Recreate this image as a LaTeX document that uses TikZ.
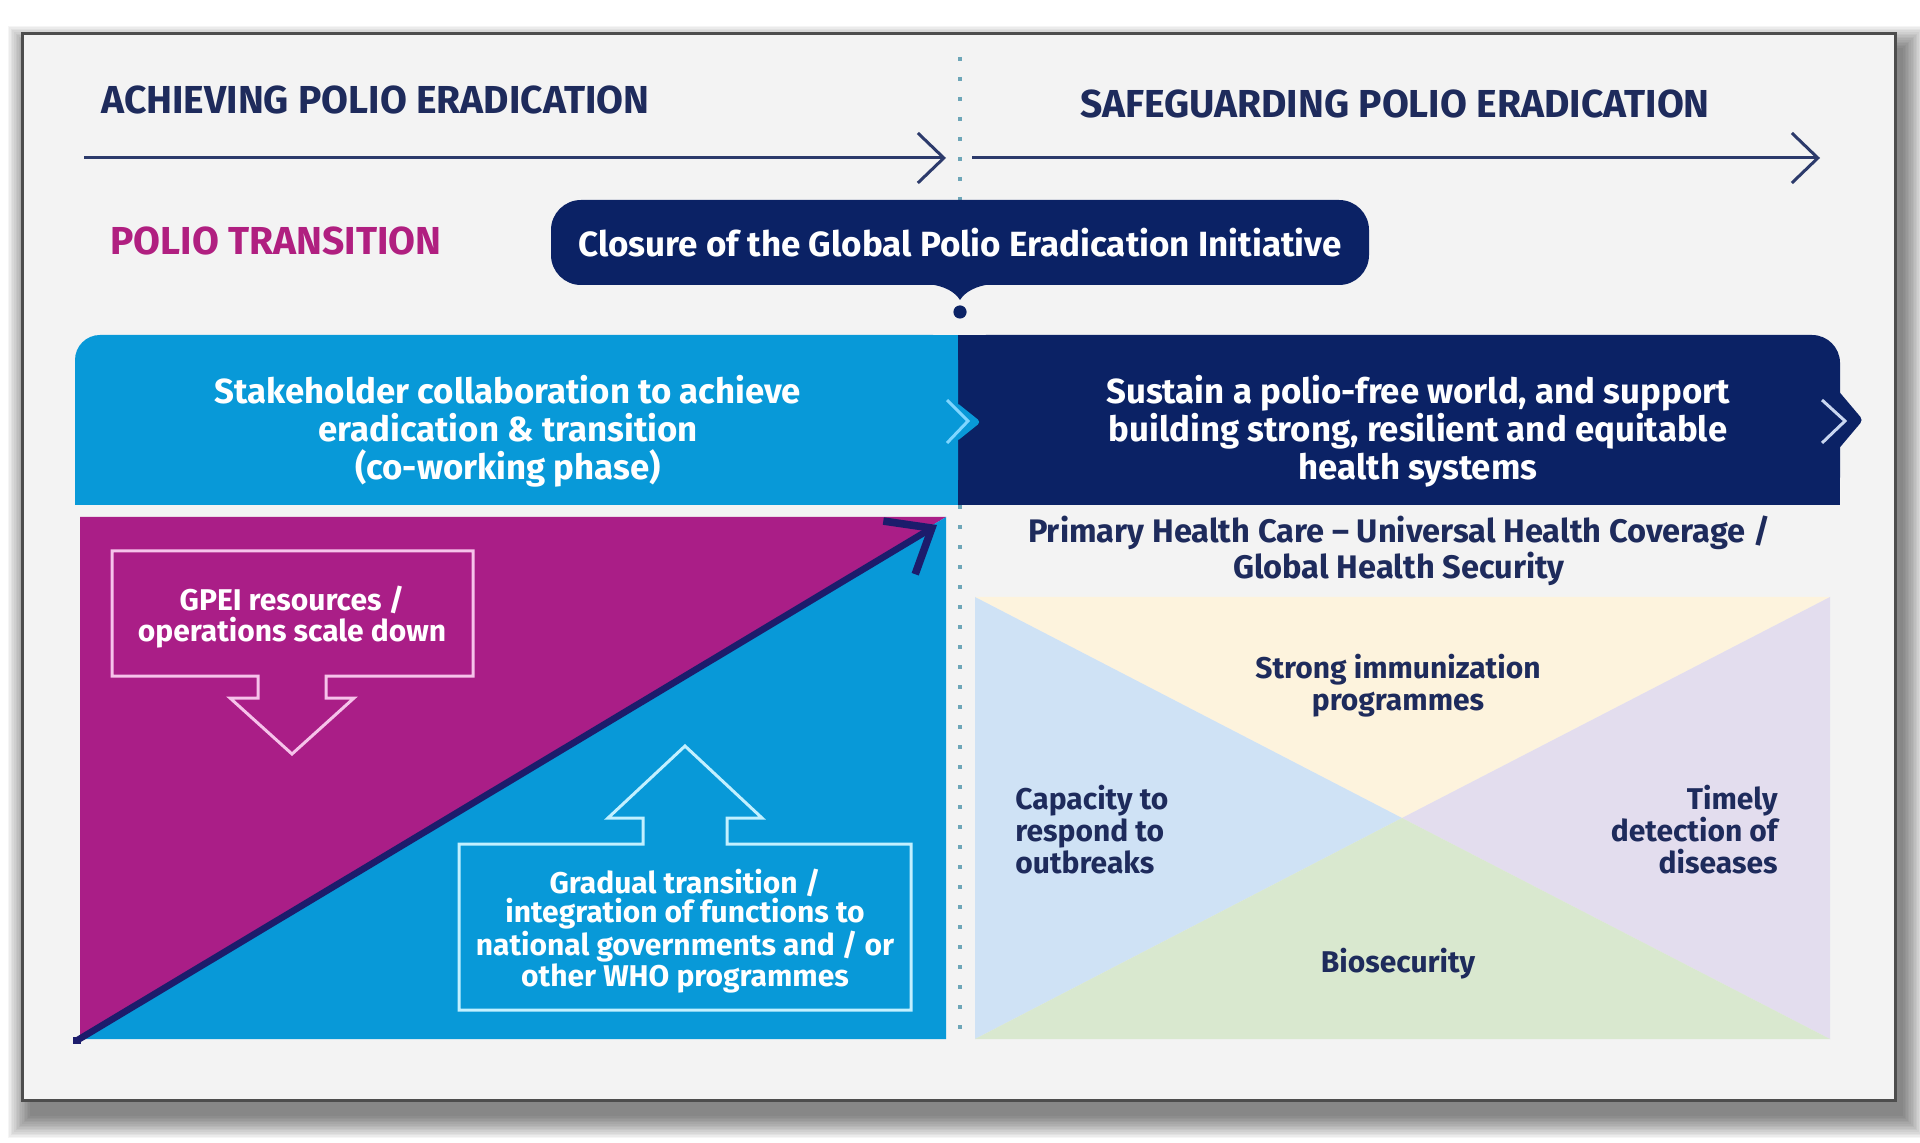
\documentclass[tikz,border=0pt]{standalone}
\usepackage{fontspec}
\setmainfont{Fira Sans}
\usetikzlibrary{arrows.meta}
\definecolor{framebg}{HTML}{F3F3F3}
\definecolor{framebd}{HTML}{4D4D4D}
\definecolor{navytxt}{HTML}{1E2B5C}
\definecolor{tlline}{HTML}{2C3A6B}
\definecolor{navybox}{HTML}{0B2265}
\definecolor{lblue}{HTML}{0899D8}
\definecolor{magtxt}{HTML}{B01F80}
\definecolor{purp}{HTML}{AA1E87}
\definecolor{diagc}{HTML}{1C1C6C}
\definecolor{pinkline}{HTML}{F6C3EA}
\definecolor{cyanline}{HTML}{C2F0FF}
\definecolor{dotc}{HTML}{6EA6B8}
\definecolor{triY}{HTML}{FDF3DD}
\definecolor{triB}{HTML}{CFE2F5}
\definecolor{triL}{HTML}{E3DDEE}
\definecolor{triG}{HTML}{D9E8CF}
\definecolor{chevL}{HTML}{7FD6FF}
\definecolor{chevR}{HTML}{C9D6F0}
\tikzset{
  titletxt/.style={font=\fontsize{19.5}{22}\selectfont\bfseries, text=navytxt, inner sep=0pt},
  bandtxt/.style={font=\fontsize{17.4}{19}\selectfont\bfseries, text=white, align=center, inner sep=0pt},
  bodytxt/.style={font=\fontsize{15}{16}\selectfont\bfseries, inner sep=0pt},
  dotline/.style={dotc, line width=2pt, dash pattern=on 2pt off 8pt},
  timeline/.style={tlline, line width=1.5pt, -{Straight Barb[length=13pt,width=25pt,line width=1.5pt]}},
  chevron/.style={line width=1.5pt, miter limit=10},
  closurebox/.style={fill=navybox, rounded corners=15pt, text=white, font=\fontsize{17.5}{20}\selectfont\bfseries, minimum width=409pt, minimum height=42.5pt, inner sep=0pt},
  diagarrow/.style={diagc, line width=3.3pt, -{Straight Barb[length=19pt,width=31pt,line width=3.8pt]}},
  outlinepink/.style={pinkline, line width=1.5pt, line join=miter},
  outlinecyan/.style={cyanline, line width=1.5pt, line join=miter}
}
\begin{document}
\begin{tikzpicture}[x=0.5pt,y=-0.5pt]
\useasboundingbox (0,0) rectangle (1920,1143);
\fill[white] (0,0) rectangle (1920,1143);
% shadow
\foreach \i in {0,...,14}{
  \fill[black,opacity=0.04] ({30-\i*1.6},{48-\i*1.6}) rectangle ({1903+\i*1.6},{1116+\i*1.6});
}
% frame
\draw[framebd, line width=1.5pt, fill=framebg] (22,34) rectangle (1895,1100);

% dotted divider
\coordinate (dtA) at (960,57);
\coordinate (dtB) at (960,200);
\coordinate (dtC) at (960,505);
\coordinate (dtD) at (960,1039);
\draw[dotline] (dtA) -- (dtB);
\draw[dotline] (dtC) -- (dtD);

% titles and timelines
\node[titletxt, anchor=west] (achieve) at (101,100) {ACHIEVING POLIO ERADICATION};
\node[titletxt] (safe) at (1395,104) {SAFEGUARDING POLIO ERADICATION};
\coordinate (tlAs) at (84,158);
\coordinate (tlAe) at (946,158);
\coordinate (tlBs) at (972,158);
\coordinate (tlBe) at (1820,158);
\draw[timeline] (tlAs) -- (tlAe);
\draw[timeline] (tlBs) -- (tlBe);

\node[titletxt, text=magtxt, anchor=west] (ptrans) at (110,241) {POLIO TRANSITION};

% closure box with pointer
\fill[navybox] (928,284) .. controls (945,286) and (955,292) .. (960,300) .. controls (965,292) and (975,286) .. (992,284) -- cycle;
\fill[navybox] (960,312) circle[radius=3.3pt];
\node[closurebox] (closure) at (960,242.5) {Closure of the Global Polio Eradication Initiative};

% band: dark right part
\fill[navybox, rounded corners=14pt] (958,335) rectangle (1840,505);
\fill[navybox] (958,335) rectangle (1500,505);
\fill[navybox] (958,420) rectangle (1840,505);
\fill[navybox, rounded corners=2pt] (1836,388) -- (1863,420) -- (1836,452) -- cycle;
\draw[chevron, chevR] (1822,400) -- (1845,421) -- (1822,443);
% band: light left part
\fill[lblue, rounded corners=12.5pt] (75,335) rectangle (958,505);
\fill[lblue] (400,335) rectangle (958,505);
\fill[lblue] (75,420) rectangle (958,505);
\fill[lblue, rounded corners=2pt] (956,402) -- (981,422) -- (956,442) -- cycle;
\draw[chevron, chevL] (947,400) -- (968,421) -- (947,443);

\node[bandtxt] (bandL) at (508,431) {Stakeholder collaboration to achieve\\eradication \& transition\\(co-working phase)};
\node[bandtxt] (bandR) at (1418,431) {Sustain a polio-free world, and support\\building strong, resilient and equitable\\health systems};

% left square
\fill[purp] (80,517) -- (946,517) -- (80,1039) -- cycle;
\fill[lblue] (946,517) -- (946,1039) -- (80,1039) -- cycle;
\coordinate (dgS) at (76,1041);
\coordinate (dgE) at (937,525);
\draw[diagarrow] (dgS) -- (dgE);
\fill[diagc] (73,1037) rectangle (81,1044);

% GPEI box with down arrow
\draw[outlinepink] (112,551) -- (473,551) -- (473,676) -- (326,676) -- (326,698) -- (354,698) -- (292,754) -- (230,698) -- (258,698) -- (258,676) -- (112,676) -- cycle;
\node[bodytxt, text=white, align=center, font=\fontsize{15}{15.5}\selectfont\bfseries] (gpei) at (292,617) {GPEI resources /\\operations scale down};

% Gradual box with up arrow
\draw[outlinecyan] (459,844) -- (643,844) -- (643,818) -- (608,818) -- (685,746) -- (762,818) -- (727,818) -- (727,844) -- (911,844) -- (911,1010) -- (459,1010) -- cycle;
\node[bodytxt, text=white, align=center, font=\fontsize{15}{14.6}\selectfont\bfseries] (gradual) at (685,931) {Gradual transition /\\integration of functions to\\national governments and / or\\other WHO programmes};

% right side
\node[bodytxt, text=navytxt, align=center, font=\fontsize{16.3}{15.3}\selectfont\bfseries] (phc) at (1399,551) {Primary Health Care -- Universal Health Coverage /\\Global Health Security};
\coordinate (sqTL) at (975,597);
\coordinate (sqTR) at (1830,597);
\coordinate (sqBL) at (975,1039);
\coordinate (sqBR) at (1830,1039);
\coordinate (sqC) at (1402,818);
\fill[triY] (sqTL) -- (sqTR) -- (sqC) -- cycle;
\fill[triB] (sqTL) -- (sqBL) -- (sqC) -- cycle;
\fill[triL] (sqTR) -- (sqBR) -- (sqC) -- cycle;
\fill[triG] (sqBL) -- (sqBR) -- (sqC) -- cycle;
\node[bodytxt, text=navytxt, align=center] (imm) at (1398,686) {Strong immunization\\programmes};
\node[bodytxt, text=navytxt, align=left, anchor=west] (cap) at (1015,830) {Capacity to\\respond to\\outbreaks};
\node[bodytxt, text=navytxt, align=right, anchor=east] (timely) at (1778,830) {Timely\\detection of\\diseases};
\node[bodytxt, text=navytxt] (bio) at (1398,964) {Biosecurity};
\end{tikzpicture}
\end{document}
